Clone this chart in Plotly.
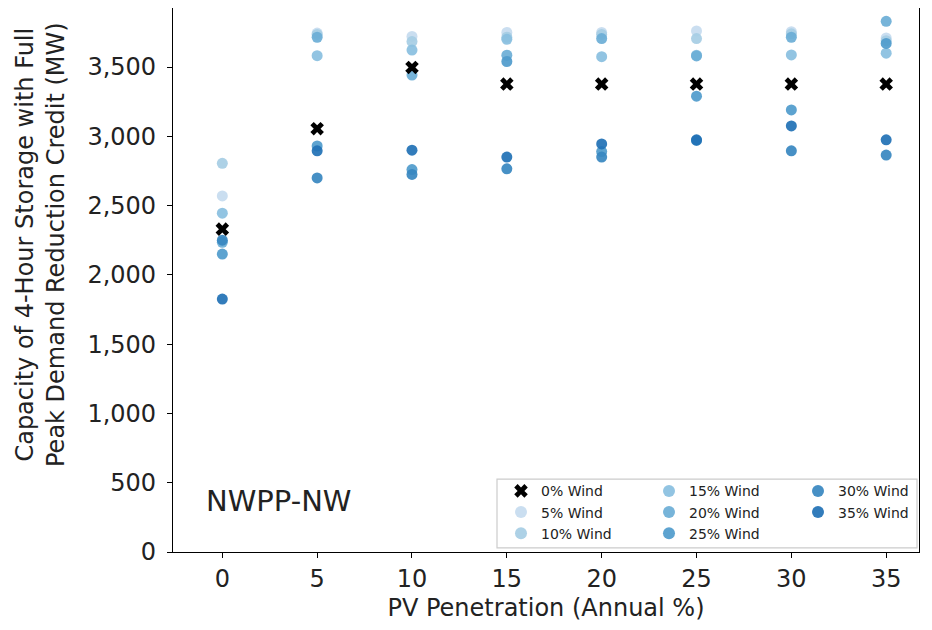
import plotly.graph_objects as go

# PV penetration levels (annual %)
pv = [0, 5, 10, 15, 20, 25, 30, 35]

# capacity (MW) per wind level
wind_0 = [2330, 3055, 3497, 3377, 3377, 3377, 3377, 3377]
wind_5 = [2570, 3745, 3721, 3750, 3750, 3760, 3755, 3710]
wind_10 = [2805, 3735, 3684, 3715, 3735, 3705, 3740, 3690]
wind_15 = [2445, 3582, 3622, 3700, 3575, 3585, 3587, 3600]
wind_20 = [2235, 3715, 3442, 3585, 3705, 3580, 3715, 3830]
wind_25 = [2150, 2930, 2760, 3540, 2890, 3290, 3190, 3670]
wind_30 = [2250, 2700, 2725, 2765, 2850, 2970, 2895, 2865]
wind_35 = [1825, 2895, 2900, 2850, 2945, 2975, 3075, 2975]

labels = ["0% Wind", "5% Wind", "10% Wind", "15% Wind",
          "20% Wind", "25% Wind", "30% Wind", "35% Wind"]
yticks = [0, 500, 1000, 1500, 2000, 2500, 3000, 3500]

series = [wind_5, wind_10, wind_15, wind_20, wind_25, wind_30, wind_35]
colors = ["#c6dbef", "#a6cde4", "#89bfe0", "#6baed6", "#4f9bcc", "#3787c0", "#2171b5"]
legend_of = ["legend", "legend", "legend2", "legend2", "legend2", "legend3", "legend3"]

fig = go.Figure()

for i, (vals, col) in enumerate(zip(series, colors)):
    fig.add_trace(go.Scatter(
        x=pv, y=vals, mode="markers", name=labels[i + 1],
        marker=dict(symbol="circle", size=11, color=col, opacity=0.92,
                    line=dict(width=0)),
        legend=legend_of[i], legendrank=i + 2,
    ))

# the zero-wind case on top
fig.add_trace(go.Scatter(
    x=pv, y=wind_0, mode="markers", name=labels[0],
    marker=dict(symbol="x", size=12, color="black", line=dict(width=0)),
    legend="legend", legendrank=1,
))

# plot area width in px
pw = 746

leg_common = dict(
    yanchor="top", y=0.141, xanchor="left",
    bgcolor="rgba(0,0,0,0)", borderwidth=0,
    font=dict(size=14, color="#222"), itemsizing="constant",
    tracegroupgap=0,
)

fig.update_layout(
    width=924, height=614,
    margin=dict(l=165, r=13, t=0, b=70),
    paper_bgcolor="white", plot_bgcolor="white",
    font=dict(family="DejaVu Sans", size=24, color="#222"),
    legend=dict(x=328 / pw, **leg_common),
    legend2=dict(x=476 / pw, **leg_common),
    legend3=dict(x=625 / pw, **leg_common),
    xaxis=dict(
        range=[-2.6, 36.73], tickvals=pv, ticks="outside", ticklen=5,
        tickcolor="black", showline=True, linecolor="black", linewidth=1.2,
        mirror=True, showgrid=False, zeroline=False, automargin=False,
        title=dict(text="PV Penetration (Annual %)", font=dict(size=24), standoff=17),
    ),
    yaxis=dict(
        range=[0, 3926], tickvals=yticks, tickformat=",", ticks="outside",
        ticklen=5, tickcolor="black", showline=True, linecolor="black",
        linewidth=1.2, mirror=True, showgrid=False, zeroline=False,
        ticklabelstandoff=6, automargin=False,
    ),
    shapes=[dict(
        type="rect", xref="paper", yref="paper",
        x0=324 / pw, x1=(pw - 2) / pw, y0=0.0074, y1=0.134,
        line=dict(color="#cccccc", width=1.2), fillcolor="rgba(255,255,255,0.8)",
        layer="below",
    )],
    annotations=[
        dict(
            text="NWPP-NW", x=-0.95, y=368, xref="x", yref="y",
            xanchor="left", yanchor="middle", showarrow=False,
            font=dict(size=29, color="#222"),
        ),
        dict(
            text="Capacity of 4-Hour Storage with Full<br>Peak Demand Reduction Credit (MW)",
            x=(-165 + 32) / pw, y=(544 - 237) / 544, xref="paper", yref="paper",
            xanchor="center", yanchor="middle", showarrow=False, textangle=-90,
            font=dict(size=24, color="#222"),
        ),
    ],
)

fig.write_html("out.html")
